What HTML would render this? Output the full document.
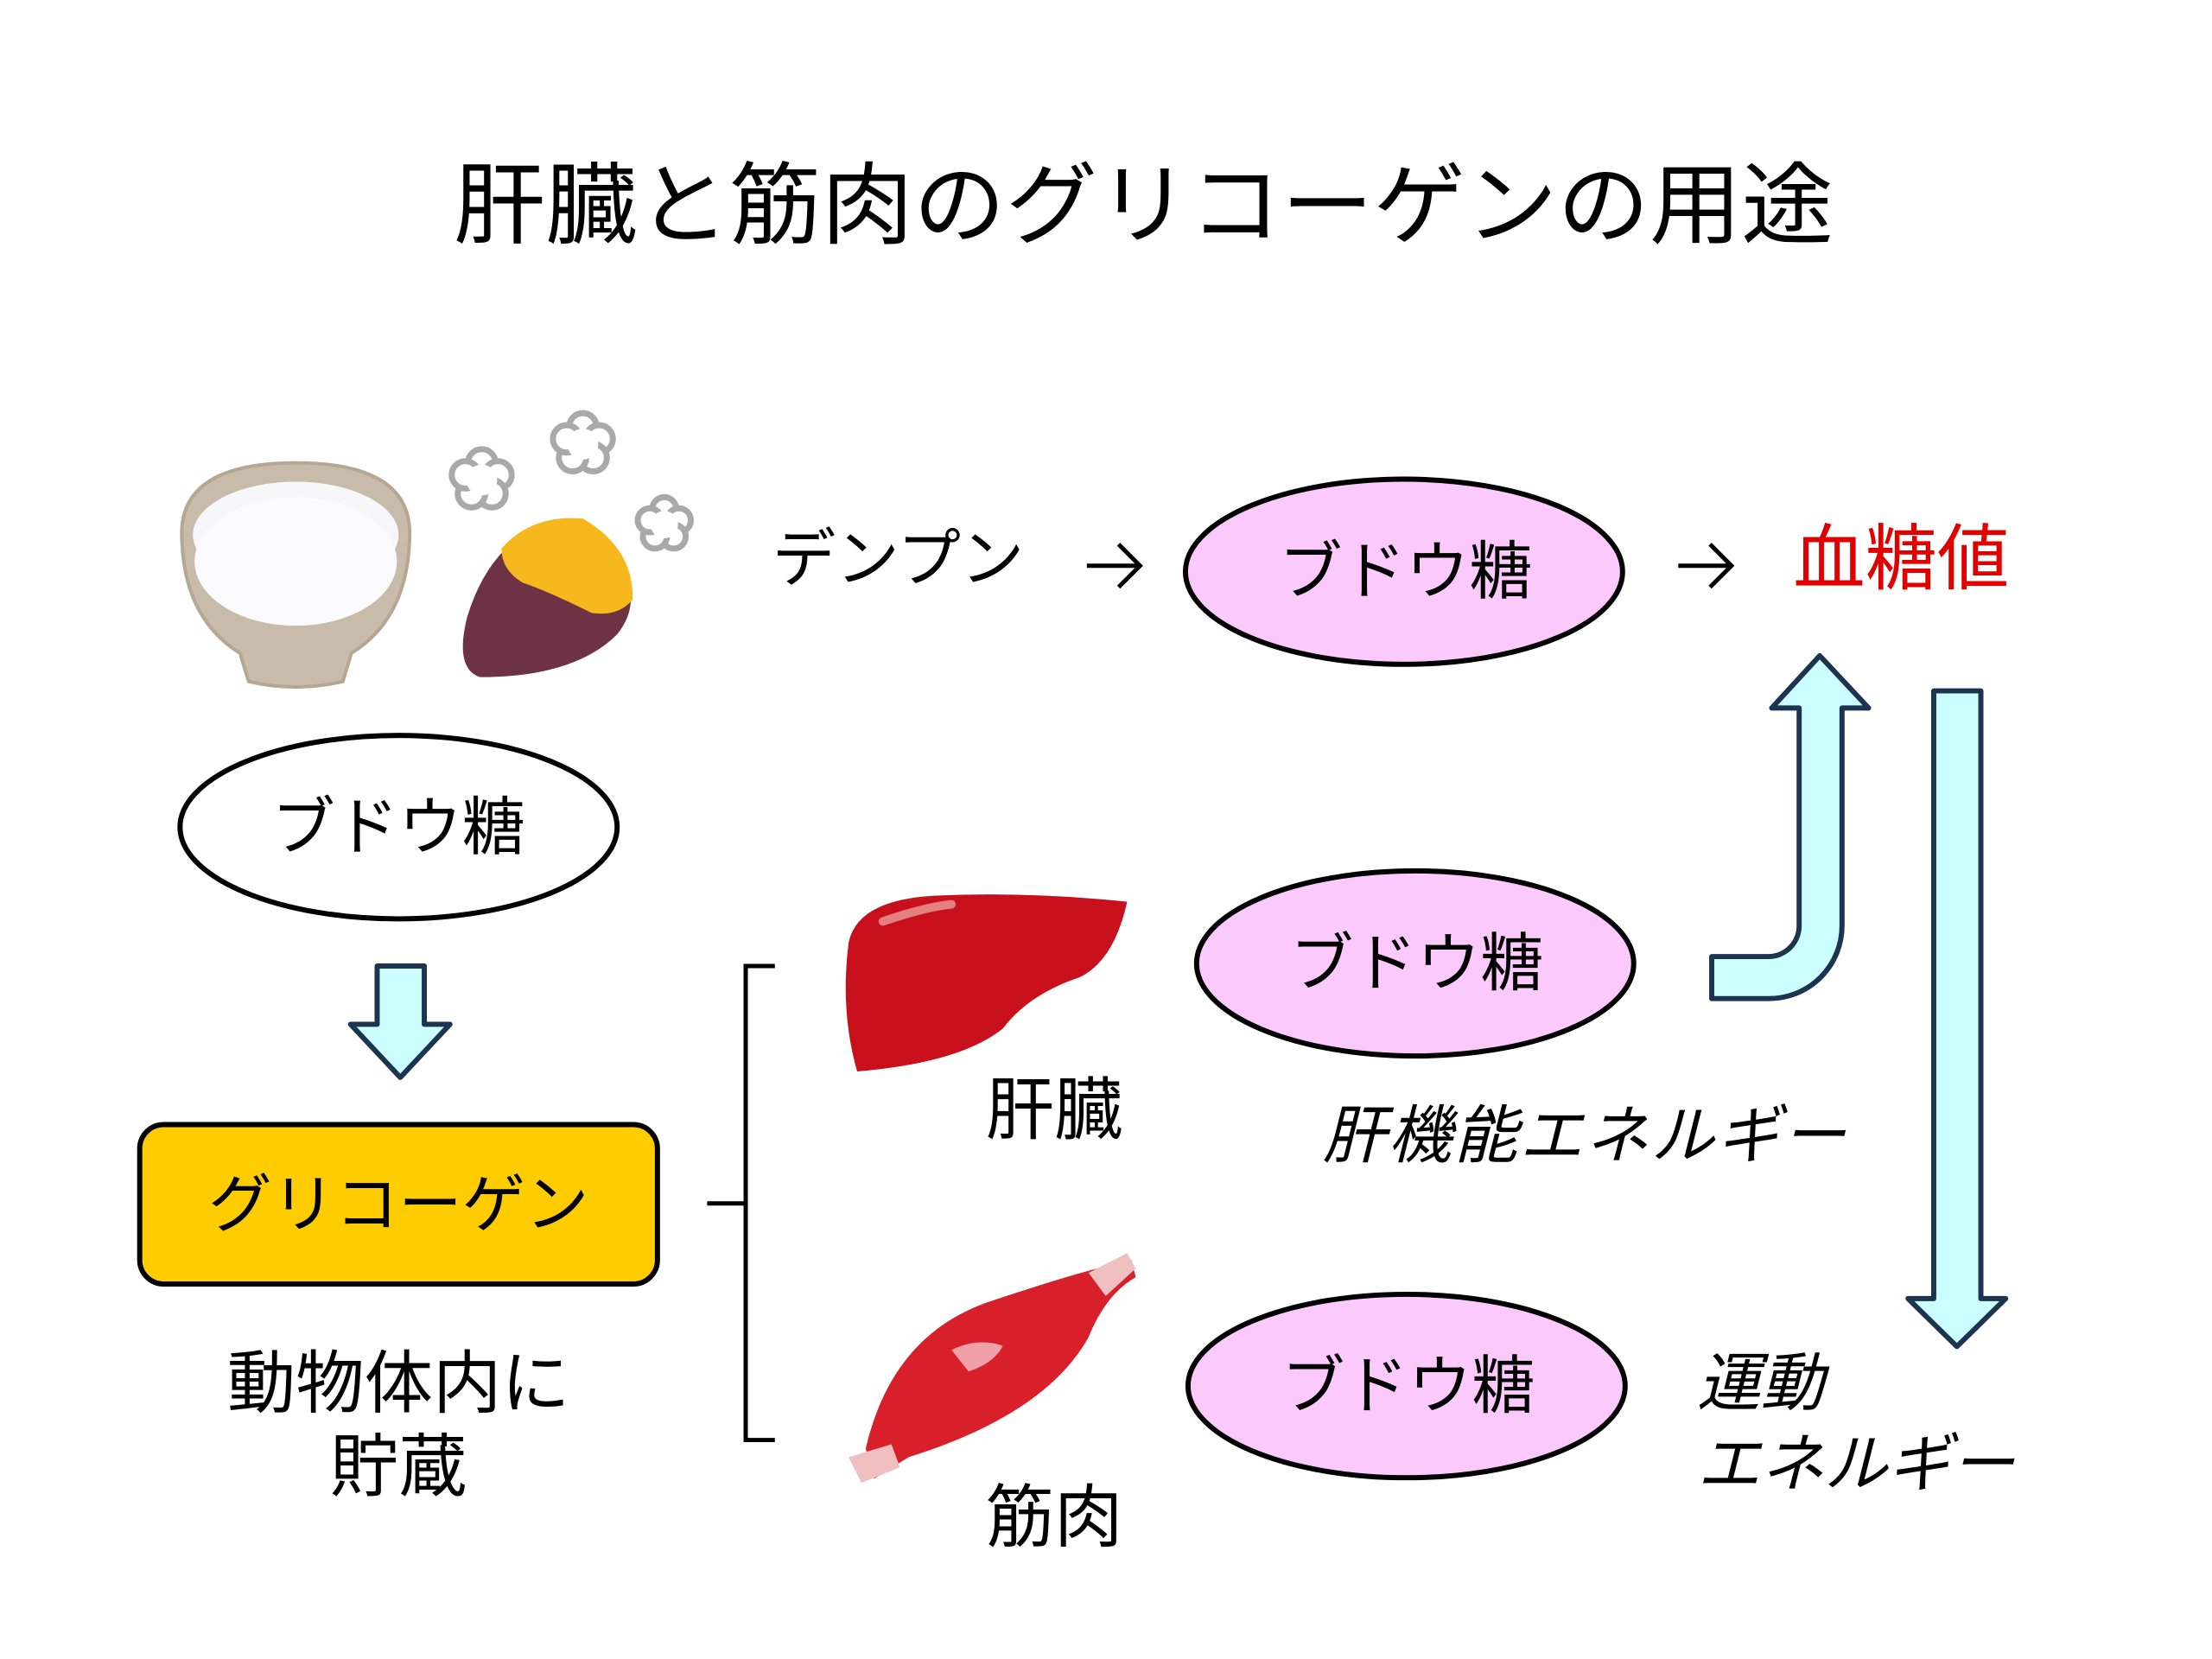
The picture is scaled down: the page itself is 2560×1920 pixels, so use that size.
<!DOCTYPE html>
<html><head><meta charset="utf-8"><style>
html,body{margin:0;padding:0;background:#fff;}
svg{display:block;}
text{font-family:"Liberation Sans","Noto Sans CJK JP",sans-serif;}
</style></head><body>
<svg width="2560" height="1920" viewBox="0 0 2560 1920" xmlns="http://www.w3.org/2000/svg">
<rect width="2560" height="1920" fill="#fff"/>
<g transform="scale(0.992)">
<text x="1334" y="240" font-size="104" text-anchor="middle" dominant-baseline="central" fill="#000" textLength="1610" lengthAdjust="spacingAndGlyphs">肝臓と筋肉のグリコーゲンの用途</text>

<g>
<path d="M212 620 Q214 540 345 540 Q476 540 478 620 Q478 720 410 762 L400 795 Q345 808 290 795 L280 762 Q212 720 212 620 Z" fill="#c9bba9" stroke="#b5a794" stroke-width="4"/>
<ellipse cx="345" cy="624" rx="120" ry="62" fill="#f7f7f9"/>
<ellipse cx="345" cy="655" rx="118" ry="75" fill="#fbfbfd"/>
</g>
<g>
<path d="M590 640 Q640 610 700 630 Q760 690 720 740 Q670 790 560 790 Q530 780 545 720 Q560 670 590 640Z" fill="#6d3344"/>
<path d="M585 640 Q620 600 680 605 Q740 640 738 700 Q720 720 690 715 Q640 690 610 680 Q585 665 585 640Z" fill="#f6b81c"/>
<g fill="#fff" stroke="#a9a9a9" stroke-width="7">
<g transform="translate(562,560)"><circle r="16" cx="0" cy="-20"/><circle r="16" cx="19" cy="-6"/><circle r="16" cx="12" cy="16"/><circle r="16" cx="-12" cy="16"/><circle r="16" cx="-19" cy="-6"/></g>
<g transform="translate(680,518)"><circle r="16" cx="0" cy="-20"/><circle r="16" cx="19" cy="-6"/><circle r="16" cx="12" cy="16"/><circle r="16" cx="-12" cy="16"/><circle r="16" cx="-19" cy="-6"/></g>
<g transform="translate(775,612)"><circle r="14" cx="0" cy="-18"/><circle r="14" cx="17" cy="-5"/><circle r="14" cx="11" cy="14"/><circle r="14" cx="-11" cy="14"/><circle r="14" cx="-17" cy="-5"/></g>
</g>
<g fill="#fff"><circle cx="562" cy="560" r="18"/><circle cx="680" cy="518" r="18"/><circle cx="775" cy="612" r="16"/></g>
</g>

<text x="1048" y="652" font-size="74" text-anchor="middle" dominant-baseline="central">デンプン</text>
<g fill="none" stroke="#000" stroke-width="5">
<path d="M1268 660 H1330 M1305 635 L1330 660 L1305 685"/>
<path d="M1958 660 H2020 M1995 635 L2020 660 L1995 685"/>
</g>
<text x="2218" y="652" font-size="84" text-anchor="middle" dominant-baseline="central" fill="#e00000">血糖値</text>

<g stroke="#000" stroke-width="6">
<ellipse cx="1638" cy="667" rx="255" ry="108" fill="#fcc9fc"/>
<ellipse cx="1651" cy="1124" rx="255" ry="108" fill="#fcc9fc"/>
<ellipse cx="1641" cy="1617" rx="255" ry="107" fill="#fcc9fc"/>
<ellipse cx="465" cy="965" rx="255" ry="107" fill="#fff"/>
<rect x="163" y="1312" width="604" height="186" rx="28" fill="#ffcc00"/>
</g>
<g font-size="74" text-anchor="middle" dominant-baseline="central">
<text x="1640" y="667">ブドウ糖</text>
<text x="1653" y="1124">ブドウ糖</text>
<text x="1643" y="1617">ブドウ糖</text>
<text x="465" y="965">ブドウ糖</text>
<text x="465" y="1405">グリコーゲン</text>
</g>
<g font-size="80" text-anchor="middle" dominant-baseline="central">
<text x="465" y="1614">動物体内に</text>
<text x="465" y="1711">貯蔵</text>
<text x="1230" y="1295">肝臓</text>
<text x="1230" y="1770">筋肉</text>
</g>
<g font-size="74" dominant-baseline="central" font-style="italic">
<text x="1543" y="1325" textLength="610">肝機能エネルギー</text>
<text x="1980" y="1614">運動</text>
<text x="1980" y="1708" textLength="370">エネルギー</text>
</g>

<path d="M440 1127 H495 V1195 H525 L467 1257 L409 1195 H440 Z" fill="#ccffff" stroke="#1c3450" stroke-width="6" stroke-linejoin="round"/>

<path d="M904 1127 H870 V1680 H904 M825 1404 H870" fill="none" stroke="#000" stroke-width="5"/>

<path d="M990 1100 Q1000 1050 1090 1045 Q1200 1040 1315 1052 Q1300 1120 1260 1140 Q1200 1160 1170 1200 Q1120 1240 1000 1250 Q980 1180 990 1100Z" fill="#c8101c"/>
<path d="M1030 1075 Q1080 1058 1110 1055" stroke="#e48080" stroke-width="10" fill="none" stroke-linecap="round"/>
<path d="M1010 1690 Q1040 1560 1150 1520 Q1240 1490 1280 1480 L1320 1470 L1325 1490 Q1290 1510 1270 1560 Q1220 1650 1060 1700 L1020 1725 Z" fill="#d8202a"/>
<path d="M1270 1485 L1315 1462 L1325 1480 L1290 1512 Z" fill="#f0c0c0"/>
<path d="M990 1700 L1040 1685 L1050 1712 L1005 1730 Z" fill="#f0c0c0"/>
<path d="M1110 1575 Q1140 1560 1170 1570 Q1160 1590 1130 1600Z" fill="#f0a0a8"/>

<g transform="translate(15,0)">
<path d="M1982 1116 H2048 A36 36 0 0 0 2084 1080 V826 H2052 L2108 765 L2165 826 H2134 V1080 A85 85 0 0 1 2049 1165 H1982 Z" fill="#ccffff" stroke="#1c3450" stroke-width="6" stroke-linejoin="round"/>
<path d="M2241 806 H2296 V1515 H2325 L2268 1571 L2211 1515 H2241 Z" fill="#ccffff" stroke="#1c3450" stroke-width="6" stroke-linejoin="round"/>
</g>
</g>
</svg>
</body></html>
